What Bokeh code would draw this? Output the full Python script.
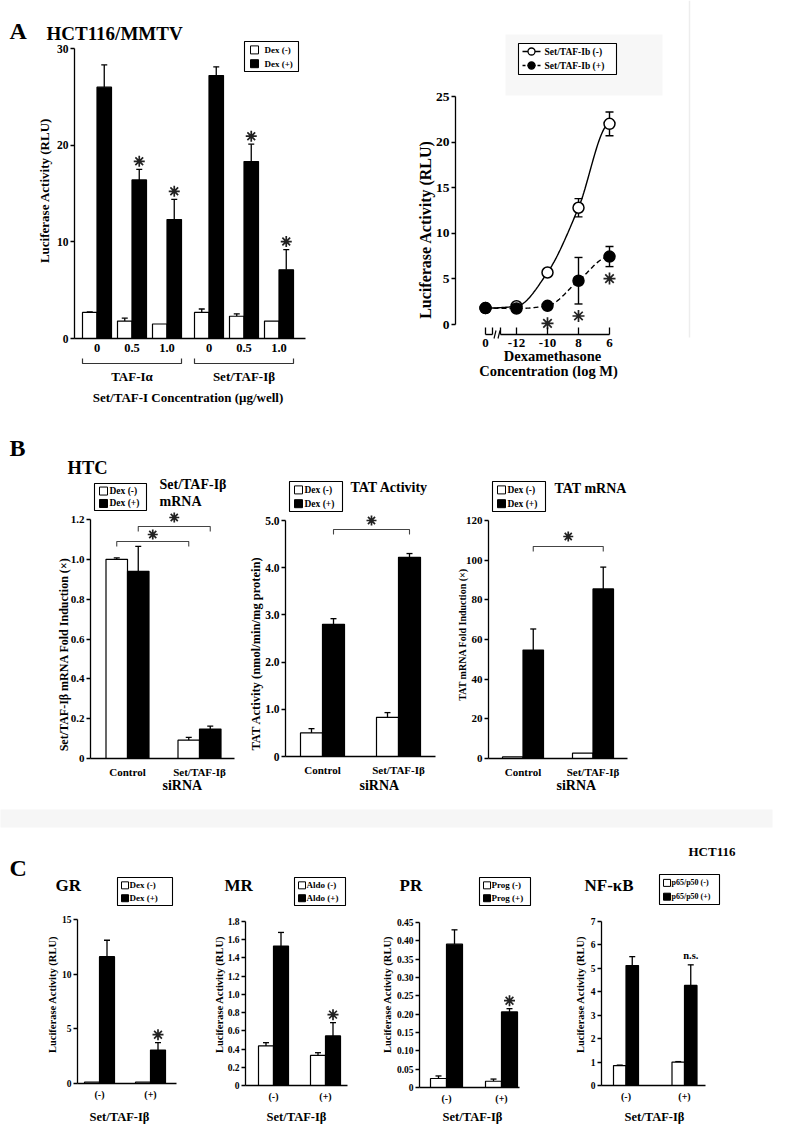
import numpy as np
from bokeh.plotting import figure
from bokeh.models import Range1d, LinearAxis, FixedTicker
from bokeh.core.properties import value
from bokeh.embed import file_html
from bokeh.resources import INLINE

SERIF = "Liberation Serif"

# ---------------- data ----------------
# Panel A (left): HCT116/MMTV, luciferase activity
a1_groups = ["TAF-I\u03b1", "Set/TAF-I\u03b2"]
a1_doses = ["0", "0.5", "1.0"]
a1_minus = [2.7, 1.8, 1.5, 2.7, 2.3, 1.8]
a1_minus_err = [0.05, 0.3, 0.0, 0.35, 0.25, 0.0]
a1_plus = [26.0, 16.4, 12.3, 27.2, 18.3, 7.1]
a1_plus_err = [2.3, 1.1, 2.1, 0.9, 1.8, 2.1]
a1_sig = [False, True, True, False, True, True]
a1_yticks = [0, 10, 20, 30]

# Panel A (right): dexamethasone dose response
a2_doses = ["0", "-12", "-10", "8", "6"]
a2_minus = [1.8, 2.0, 5.7, 12.8, 22.0]
a2_minus_err = [0.0, 0.0, 0.0, 1.0, 1.3]
a2_plus = [1.8, 1.75, 2.05, 4.8, 7.45]
a2_plus_err = [0.0, 0.0, 0.0, 2.55, 1.1]
a2_sig = [False, False, True, True, True]
a2_yticks = [0, 5, 10, 15, 20, 25]

# Panel B: HTC siRNA
b_cats = ["Control", "Set/TAF-I\u03b2"]
b1_minus = [1.0, 0.092]
b1_minus_err = [0.007, 0.014]
b1_plus = [0.94, 0.148]
b1_plus_err = [0.125, 0.015]
b1_yticks = [0, 0.2, 0.4, 0.6, 0.8, 1.0, 1.2]
b1_ylabels = ["0", "0.2", "0.4", "0.6", "0.8", "1.0", "1.2"]

b2_minus = [0.50, 0.83]
b2_minus_err = [0.09, 0.10]
b2_plus = [2.80, 4.22]
b2_plus_err = [0.12, 0.08]
b2_yticks = [0, 1, 2, 3, 4, 5]
b2_ylabels = ["0", "1.0", "2.0", "3.0", "4.0", "5.0"]

b3_minus = [0.8, 2.7]
b3_minus_err = [0.0, 0.0]
b3_plus = [54.7, 85.5]
b3_plus_err = [10.6, 11.0]
b3_yticks = [0, 20, 40, 60, 80, 100, 120]
b3_ylabels = ["0", "20", "40", "60", "80", "100", "120"]

# Panel C: HCT116 receptors
c_cats = ["(-)", "(+)"]
gr_minus = [0.12, 0.12]
gr_minus_err = [0.0, 0.0]
gr_plus = [11.6, 3.06]
gr_plus_err = [1.5, 0.67]
gr_yticks = [0, 5, 10, 15]
gr_ylabels = ["0", "5", "10", "15"]

mr_minus = [0.434, 0.33]
mr_minus_err = [0.036, 0.03]
mr_plus = [1.53, 0.544]
mr_plus_err = [0.15, 0.146]
mr_yticks = [0, 0.2, 0.4, 0.6, 0.8, 1.0, 1.2, 1.4, 1.6, 1.8]
mr_ylabels = ["0", "0.2", "0.4", "0.6", "0.8", "1.0", "1.2", "1.4", "1.6", "1.8"]

pr_minus = [0.0245, 0.017]
pr_minus_err = [0.007, 0.006]
pr_plus = [0.391, 0.206]
pr_plus_err = [0.039, 0.009]
pr_yticks = [0, 0.05, 0.10, 0.15, 0.20, 0.25, 0.30, 0.35, 0.40, 0.45]
pr_ylabels = ["0", "0.05", "0.10", "0.15", "0.20", "0.25", "0.30", "0.35", "0.40", "0.45"]

nf_minus = [0.85, 1.0]
nf_minus_err = [0.02, 0.02]
nf_plus = [5.12, 4.27]
nf_plus_err = [0.38, 0.88]
nf_yticks = [0, 1, 2, 3, 4, 5, 6, 7]
nf_ylabels = ["0", "1", "2", "3", "4", "5", "6", "7"]

# ---------------- layout (reference pixel positions) ----------------
LAYOUT = {
    "a1": dict(ax=82, xend=313, c0=104.5, cu=35, y0=346, yt=56, ytv=30, bw=14.5),
    "a2": dict(ax=463, xend=618, c0=493, cu=31, y0=332, yt=104, ytv=25, bw=0),
    "b1": dict(ax=98, xend=242, c0=135, cu=72, y0=766, yt=527, ytv=1.2, bw=21.5),
    "b2": dict(ax=293, xend=443, c0=330, cu=76, y0=764, yt=528, ytv=5.0, bw=22),
    "b3": dict(ax=496, xend=635, c0=530.5, cu=70, y0=766, yt=528, ytv=120, bw=20.5),
    "c1": dict(ax=85, xend=184, c0=107, cu=51, y0=1091, yt=927, ytv=15, bw=15),
    "c2": dict(ax=253, xend=355, c0=281, cu=52, y0=1093, yt=929, ytv=1.8, bw=15),
    "c3": dict(ax=427, xend=527, c0=454, cu=55, y0=1095, yt=930, ytv=0.45, bw=16),
    "c4": dict(ax=609, xend=713, c0=633.5, cu=58.5, y0=1093, yt=929, ytv=7, bw=12.5),
}
X0, X1, YB, YT = 8, 792, 1140, 8


class Sub:
    def __init__(self, name):
        self.n = name
        self.L = LAYOUT[name]
        self.sx = self.L["cu"]
        self.sy = (self.L["yt"] - self.L["y0"]) / self.L["ytv"]

    def xv(self, px):
        return (px - self.L["c0"]) / self.sx

    def yv(self, py):
        return (py - self.L["y0"]) / self.sy

    def dy(self, dpx):
        return dpx / abs(self.sy)

    def kw(self):
        return dict(x_range_name=self.n, y_range_name=self.n)


subs = {n: Sub(n) for n in LAYOUT}

p = figure(width=X1 - X0, height=YB - YT, x_range=Range1d(X0, X1), y_range=Range1d(YB, YT),
           output_backend="svg", toolbar_location=None, x_axis_location=None,
           y_axis_location=None, min_border=0)
p.outline_line_color = None
p.background_fill_color = "white"
p.border_fill_color = "white"
p.grid.visible = False
p.extra_x_ranges = {n: Range1d(s.xv(X0), s.xv(X1)) for n, s in subs.items()}
p.extra_y_ranges = {n: Range1d(s.yv(YB), s.yv(YT)) for n, s in subs.items()}


def txt(x, y, s, size, align="left", angle=0.0, font=SERIF, style="bold", color="black", **kw):
    p.text(x=[x], y=[y], text=[s], text_font=value(font), text_font_style=style,
           text_font_size=f"{size}px", text_align=align, text_baseline="middle",
           angle=angle, text_color=color, **kw)


def star(x, y, size=11, **kw):
    p.scatter([x], [y], marker="asterisk", size=size, line_color="#222222", line_width=1.7, **kw)


def style_axis(ax, size, out, standoff, tick_in=0):
    ax.axis_line_color = "black"
    ax.axis_line_width = 1.3
    ax.major_tick_line_width = 1.3
    ax.major_tick_line_color = "black"
    ax.major_tick_out = int(out)
    ax.major_tick_in = int(tick_in)
    ax.minor_tick_out = 0
    ax.minor_tick_in = 0
    ax.minor_tick_line_color = None
    ax.major_label_text_font = SERIF
    ax.major_label_text_font_style = "bold"
    ax.major_label_text_font_size = f"{size}px"
    ax.major_label_text_color = "black"
    ax.major_label_standoff = int(standoff)


def y_axis(s, ticks, labels, size):
    ax = LinearAxis(fixed_location=s.xv(s.L["ax"]), bounds=(0, s.L["ytv"]),
                    ticker=FixedTicker(ticks=ticks),
                    major_label_overrides=dict(zip(ticks, labels)), **s.kw())
    style_axis(ax, size, 4, 2)
    p.add_layout(ax, "left")


def x_axis(s, ticks, labels, size, standoff):
    ax = LinearAxis(fixed_location=0, bounds=(s.xv(s.L["ax"]), s.xv(s.L["xend"])),
                    ticker=FixedTicker(ticks=ticks),
                    major_label_overrides=dict(zip(ticks, labels)), **s.kw())
    style_axis(ax, size, 0, standoff)
    ax.major_tick_line_color = None
    p.add_layout(ax, "below")


def draw_bars(s, xs, minus, minus_err, plus, plus_err):
    bw = s.L["bw"] / s.sx
    cap = 3.0 / s.sx
    xm = [x - bw / 2 for x in xs]
    xpl = [x + bw / 2 for x in xs]
    for xx, tops, errs, fill in ((xm, minus, minus_err, "white"), (xpl, plus, plus_err, "black")):
        ex = [x for x, e in zip(xx, errs) if e > 0]
        et = [t for t, e in zip(tops, errs) if e > 0]
        ee = [t + e for t, e in zip(tops, errs) if e > 0]
        if ex:
            p.segment(x0=ex, y0=et, x1=ex, y1=ee, line_color="black", line_width=1.3, **s.kw())
            p.segment(x0=[x - cap for x in ex], y0=ee, x1=[x + cap for x in ex], y1=ee,
                      line_color="black", line_width=1.3, **s.kw())
        p.vbar(x=xx, top=tops, bottom=0, width=bw, fill_color=fill, line_color="black",
               line_width=1.2, **s.kw())
    return xm, xpl


def bar_legend(box, labels, size, sq=8, sq_off=5, txt_off=16):
    x0, y0, x1, y1 = box
    p.quad(left=[x0], right=[x1], top=[y0], bottom=[y1], fill_color="white",
           line_color="black", line_width=1.1)
    for frac, lab, fill in ((0.28, labels[0], "white"), (0.74, labels[1], "black")):
        yc = y0 + (y1 - y0) * frac
        p.quad(left=[x0 + sq_off], right=[x0 + sq_off + sq], top=[yc - sq / 2], bottom=[yc + sq / 2],
               fill_color=fill, line_color="black", line_width=1)
        txt(x0 + txt_off, yc, lab, size)


def bracket(s, xa, xb, ypx, tip_px, star_px):
    ya, yt = s.yv(ypx), s.yv(ypx + tip_px)
    p.multi_line(xs=[[xa, xa, xb, xb]], ys=[[yt, ya, ya, yt]], line_color="#444444",
                 line_width=1.1, **s.kw())
    star((xa + xb) / 2, s.yv(star_px), 10, **s.kw())


# faint scan artefacts of the original figure
p.quad(left=[513], right=[670], top=[42], bottom=[103], fill_color="#f7f7f7", line_color=None)
p.segment(x0=[697], y0=[8], x1=[697], y1=[345], line_color="#ededed", line_width=1.5)
p.quad(left=[2], right=[780], top=[817], bottom=[835], fill_color="#f6f6f6", line_color=None)

# ---------------- Panel A left ----------------
s = subs["a1"]
a1_x = [i + 3.2 * g for g in range(len(a1_groups)) for i in range(len(a1_doses))]
xm, xpl = draw_bars(s, a1_x, a1_minus, a1_minus_err, a1_plus, a1_plus_err)
y_axis(s, a1_yticks, [str(t) for t in a1_yticks], 11.5)
x_axis(s, a1_x, a1_doses * len(a1_groups), 12.5, 5)
for x, t, e, sig in zip(xpl, a1_plus, a1_plus_err, a1_sig):
    if sig:
        star(x, t + e + s.dy(8), 11, **s.kw())
bw = s.L["bw"] / s.sx
for g, grp in enumerate(a1_groups):
    left = a1_x[3 * g] - bw
    right = a1_x[3 * g + 2] + bw
    ya, yt = s.yv(371), s.yv(366)
    p.multi_line(xs=[[left, left, right, right]], ys=[[yt, ya, ya, yt]], line_color="#333333",
                 line_width=1.2, **s.kw())
    txt((left + right) / 2, s.yv(384), grp, 13, align="center", **s.kw())
txt((a1_x[0] - bw + a1_x[-1] + bw) / 2, s.yv(405), "Set/TAF-I Concentration (\u03bcg/well)", 13,
    align="center", **s.kw())
txt(52, 198, "Luciferase Activity (RLU)", 13, align="center", angle=np.pi / 2)
bar_legend((252, 49, 306, 79), ["Dex (-)", "Dex (+)"], 9, sq=8, sq_off=6, txt_off=20)
txt(17, 38, "A", 24)
txt(54, 41, "HCT116/MMTV", 19)


# ---------------- Panel A right ----------------
def pchip_curve(ys, n=30):
    y = np.array(ys, dtype=float)
    d = np.diff(y)
    m = np.zeros_like(y)
    for k in range(1, len(y) - 1):
        if d[k - 1] * d[k] > 0:
            m[k] = 2.0 / (1.0 / d[k - 1] + 1.0 / d[k])
    xx, yy = [], []
    for k in range(len(y) - 1):
        t = np.linspace(0, 1, n)
        h00 = 2 * t ** 3 - 3 * t ** 2 + 1
        h10 = t ** 3 - 2 * t ** 2 + t
        h01 = -2 * t ** 3 + 3 * t ** 2
        h11 = t ** 3 - t ** 2
        yy += list(h00 * y[k] + h10 * m[k] + h01 * y[k + 1] + h11 * m[k + 1])
        xx += list(k + t)
    return xx, yy


s = subs["a2"]
a2_x = list(range(len(a2_doses)))
cx, cy = pchip_curve(a2_minus)
p.line(cx, cy, line_color="black", line_width=1.4, **s.kw())
cx, cy = pchip_curve(a2_plus)
p.line(cx, cy, line_color="black", line_width=1.4, line_dash="5 3", **s.kw())
cap = 4.0 / s.sx
for vals, errs in ((a2_minus, a2_minus_err), (a2_plus, a2_plus_err)):
    ex = [x for x, e in zip(a2_x, errs) if e > 0]
    lo = [v - e for v, e in zip(vals, errs) if e > 0]
    hi = [v + e for v, e in zip(vals, errs) if e > 0]
    p.segment(x0=ex, y0=lo, x1=ex, y1=hi, line_color="black", line_width=1.4, **s.kw())
    for yy in (lo, hi):
        p.segment(x0=[x - cap for x in ex], y0=yy, x1=[x + cap for x in ex], y1=yy,
                  line_color="black", line_width=1.4, **s.kw())
p.scatter(a2_x, a2_minus, size=11, marker="circle", fill_color="white", line_color="black",
          line_width=1.5, **s.kw())
p.scatter(a2_x, a2_plus, size=11, marker="circle", fill_color="black", line_color="black",
          line_width=1.5, **s.kw())
for x, v, e, sig in zip(a2_x, a2_plus, a2_plus_err, a2_sig):
    if sig:
        off = 12 + (5.5 if e == 0 else 0)
        star(x, v - e - s.dy(off), 12, **s.kw())
ax = LinearAxis(fixed_location=s.xv(s.L["ax"]), bounds=(0, s.L["ytv"]),
                ticker=FixedTicker(ticks=a2_yticks),
                major_label_overrides={t: str(t) for t in a2_yticks}, **s.kw())
style_axis(ax, 13.5, 4, 2)
p.add_layout(ax, "left")
base = s.yv(342)
ax = LinearAxis(fixed_location=base, ticker=FixedTicker(ticks=a2_x),
                major_label_overrides=dict(zip(a2_x, a2_doses)), **s.kw())
style_axis(ax, 13, 0, 4, tick_in=7)
ax.axis_line_color = None
p.add_layout(ax, "below")
brk0, brk1 = s.xv(500), s.xv(508)
p.segment(x0=[0, brk1], y0=[base, base], x1=[brk0, 4], y1=[base, base], line_color="black",
          line_width=1.4, **s.kw())
p.segment(x0=[brk0, brk1], y0=[base, base], x1=[brk0, brk1], y1=[s.yv(335), s.yv(335)],
          line_color="black", line_width=1.3, **s.kw())
p.segment(x0=[501.5, 505.5], y0=[346, 346], x1=[503.5, 507.5], y1=[338, 338], line_color="black",
          line_width=1.2)
txt(560, 363, "Dexamethasone", 14.5, align="center")
txt(556, 378, "Concentration (log M)", 14.5, align="center")
txt(433, 237, "Luciferase Activity (RLU)", 16, align="center", angle=np.pi / 2)
p.quad(left=[526], right=[624], top=[51], bottom=[82], fill_color="white", line_color="black",
       line_width=1.1)
p.segment(x0=[530], y0=[59], x1=[548], y1=[59], line_color="black", line_width=1.3)
p.segment(x0=[530], y0=[73], x1=[548], y1=[73], line_color="black", line_width=1.3, line_dash="3 2")
p.scatter([539], [59], size=7, marker="circle", fill_color="white", line_color="black", line_width=1.3)
p.scatter([539], [73], size=7, marker="circle", fill_color="black", line_color="black", line_width=1.3)
txt(552, 59, "Set/TAF-Ib (-)", 9.5)
txt(552, 73, "Set/TAF-Ib (+)", 9.5)

# ---------------- Panel B ----------------
b_x = list(range(len(b_cats)))
txt(17, 455, "B", 24)
txt(75, 475, "HTC", 18.5)

s = subs["b1"]
xm, xpl = draw_bars(s, b_x, b1_minus, b1_minus_err, b1_plus, b1_plus_err)
y_axis(s, b1_yticks, b1_ylabels, 11)
x_axis(s, b_x, b_cats, 11, 7)
bracket(s, xm[0], xm[1], 549, 5, 542)
bracket(s, xpl[0], xpl[1], 534, 5, 525)
bar_legend((102, 491, 154, 518), ["Dex (-)", "Dex (+)"], 9.5, sq=8, sq_off=5, txt_off=15)
txt(167, 492, "Set/TAF-I\u03b2", 14)
txt(167, 509, "mRNA", 14)
txt(170, 793, "siRNA", 14)
txt(71, 662, "Set/TAF-I\u03b2 mRNA Fold Induction (\u00d7)", 12, align="center", angle=np.pi / 2)

s = subs["b2"]
xm, xpl = draw_bars(s, b_x, b2_minus, b2_minus_err, b2_plus, b2_plus_err)
y_axis(s, b2_yticks, b2_ylabels, 11.5)
x_axis(s, b_x, b_cats, 11, 7)
bracket(s, xpl[0], xpl[1], 537, 5, 528)
bar_legend((297, 489, 350, 519), ["Dex (-)", "Dex (+)"], 9.5, sq=8, sq_off=5, txt_off=15)
txt(358, 495, "TAT Activity", 14)
txt(367, 793, "siRNA", 14)
txt(263, 661, "TAT Activity (nmol/min/mg protein)", 12.5, align="center", angle=np.pi / 2)

s = subs["b3"]
xm, xpl = draw_bars(s, b_x, b3_minus, b3_minus_err, b3_plus, b3_plus_err)
y_axis(s, b3_yticks, b3_ylabels, 11)
x_axis(s, b_x, b_cats, 11, 7)
bracket(s, xpl[0], xpl[1], 554, 5, 544)
bar_legend((500, 489, 553, 519), ["Dex (-)", "Dex (+)"], 9.5, sq=8, sq_off=5, txt_off=15)
txt(562, 496, "TAT mRNA", 14)
txt(564, 793, "siRNA", 14)
txt(470, 642, "TAT mRNA Fold Induction (\u00d7)", 10, align="center", angle=np.pi / 2)

# ---------------- Panel C ----------------
c_x = list(range(len(c_cats)))
txt(17, 875, "C", 24)
txt(696, 859, "HCT116", 13)

panels_c = [
    ("c1", "GR", gr_minus, gr_minus_err, gr_plus, gr_plus_err, gr_yticks, gr_ylabels,
     ["Dex (-)", "Dex (+)"], (125, 885, 180, 913), 63, 60, 127, "*"),
    ("c2", "MR", mr_minus, mr_minus_err, mr_plus, mr_plus_err, mr_yticks, mr_ylabels,
     ["Aldo (-)", "Aldo (+)"], (302, 885, 353, 913), 232, 227, 304, "*"),
    ("c3", "PR", pr_minus, pr_minus_err, pr_plus, pr_plus_err, pr_yticks, pr_ylabels,
     ["Prog (-)", "Prog (+)"], (487, 885, 538, 913), 407, 395, 480, "*"),
    ("c4", "NF-\u03baB", nf_minus, nf_minus_err, nf_plus, nf_plus_err, nf_yticks, nf_ylabels,
     ["p65/p50 (-)", "p65/p50 (+)"], (667, 882, 727, 912), 592, 588, 662, "n.s."),
]
for (name, title, mn, mne, pl, ple, yt, yl, leg, box, tx, ylx, xlx, mark) in panels_c:
    s = subs[name]
    xm, xpl = draw_bars(s, c_x, mn, mne, pl, ple)
    y_axis(s, yt, yl, 9.5)
    x_axis(s, c_x, c_cats, 10, 5)
    if mark == "*":
        star(xpl[1], pl[1] + ple[1] + s.dy(8), 11, **s.kw())
    else:
        txt(xpl[1], pl[1] + ple[1] + s.dy(9), mark, 10.5, align="center", **s.kw())
    lsize = 8 if len(leg[0]) > 8 else 9
    bar_legend(box, leg, lsize, sq=7, sq_off=4, txt_off=12)
    txt(tx, 893, title, 17)
    txt(xlx, 1124, "Set/TAF-I\u03b2", 12.5, align="center")
    txt(ylx, 1002, "Luciferase Activity (RLU)", 10.5, align="center", angle=np.pi / 2)

open("out.html", "w").write(file_html(p, INLINE))
